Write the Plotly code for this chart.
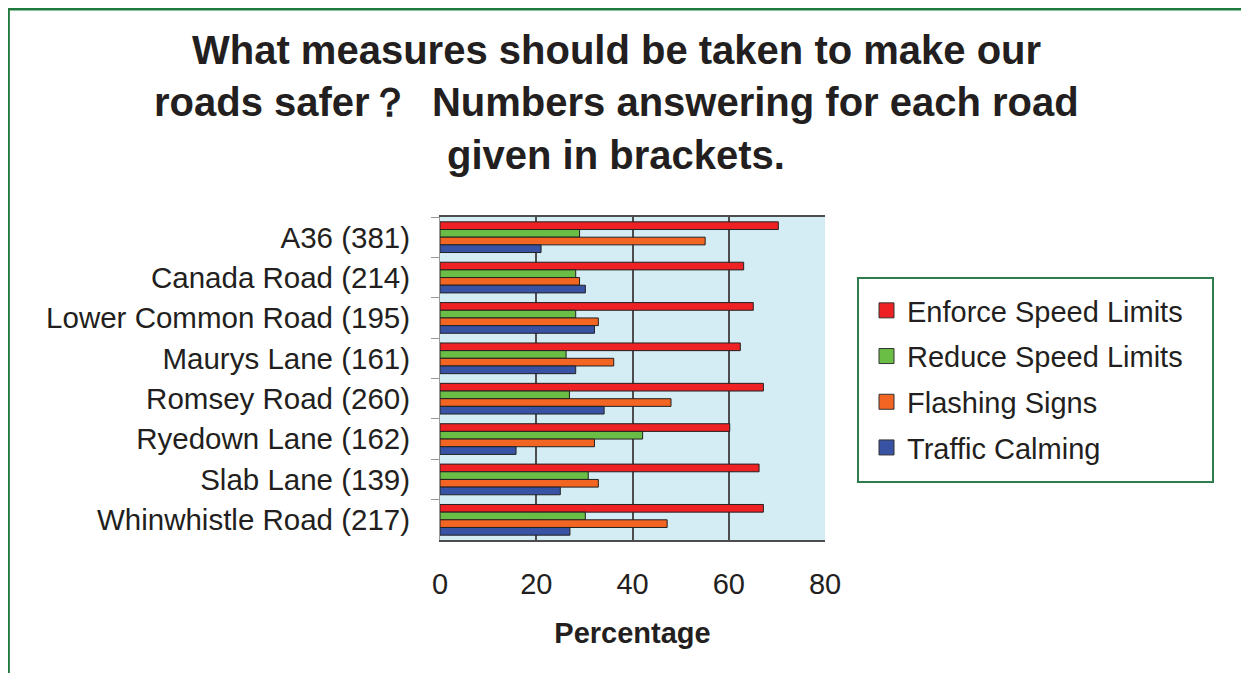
import plotly.graph_objects as go

roads = ["A36 (381)", "Canada Road (214)", "Lower Common Road (195)", "Maurys Lane (161)",
         "Romsey Road (260)", "Ryedown Lane (162)", "Slab Lane (139)", "Whinwhistle Road (217)"]
enforce = [70.3, 63.1, 65.1, 62.4, 67.2, 60.2, 66.3, 67.2]
reduce_ = [29.0, 28.2, 28.2, 26.2, 26.9, 42.1, 30.8, 30.2]
flashing = [55.1, 29.0, 32.9, 36.1, 48.0, 32.1, 32.9, 47.2]
calming = [21.0, 30.2, 32.1, 28.2, 34.1, 15.8, 25.0, 27.0]

series = [
    ("Enforce Speed Limits", enforce, "#ee2224"),
    ("Reduce Speed Limits", reduce_, "#6abd45"),
    ("Flashing Signs", flashing, "#f26522"),
    ("Traffic Calming", calming, "#3953a4"),
]

FONT = "Liberation Sans, Arial, sans-serif"

W, H = 1241, 665
L, T, R, B = 432, 209, 424, 133
PW, PH = W - L - R, H - T - B


def px(xf):
    return (xf - L) / PW


def py(yf):
    return (H - B - yf) / PH


fig = go.Figure()
for i, (name, vals, col) in enumerate(series):
    fig.add_trace(go.Bar(
        y=roads, x=vals, name=name, orientation="h",
        marker=dict(color=col, line=dict(color="#222222", width=1)),
        showlegend=False,
    ))
for i, (name, vals, col) in enumerate(series):
    fig.add_trace(go.Scatter(
        x=[None], y=[None], mode="markers", name=name, legendgroup=f"g{i}",
        marker=dict(symbol="square", size=15, color=col, line=dict(color="#333333", width=1)),
        showlegend=True, hoverinfo="skip",
    ))

fig.update_layout(
    width=W, height=H,
    margin=dict(l=L, r=R, t=T, b=B),
    paper_bgcolor="white", plot_bgcolor="#d4ecf3",
    barmode="group", bargap=0.24, bargroupgap=0,
    font=dict(family=FONT, color="#231f20", size=29),
    showlegend=True,
    legend=dict(
        x=px(858), y=py(277), xanchor="left", yanchor="top",
        borderwidth=0, bgcolor="rgba(0,0,0,0)",
        font=dict(size=29, family=FONT, color="#231f20"),
        tracegroupgap=5, itemwidth=31,
    ),
    xaxis=dict(
        range=[0, 80], dtick=20, showgrid=True, gridcolor="#4d4d4d", gridwidth=1.5,
        zeroline=False, showline=True, linecolor="#4d4d4d", linewidth=1.5,
        ticks="", tickfont=dict(size=29), ticklabelstandoff=17,
        title=dict(text="<b>Percentage</b>", font=dict(size=29), standoff=24),
        mirror=True,
    ),
    yaxis=dict(
        autorange="reversed", categoryorder="array", categoryarray=roads,
        ticks="outside", tickson="boundaries", ticklen=8, tickcolor="#999999",
        showline=True, linecolor="#999999", linewidth=1,
        tickfont=dict(size=29.5), ticklabelstandoff=23,
    ),
)

title_lines = [
    ("What measures should be taken to make our", 42),
    ("roads safer？  Numbers answering for each road", 94),
    ("given in brackets.", 147),
]
for txt, yf in title_lines:
    fig.add_annotation(
        text=f"<b>{txt}</b>", xref="paper", yref="paper",
        x=px(608), y=py(yf), xanchor="center", yanchor="middle",
        showarrow=False, font=dict(size=40, family=FONT, color="#231f20"),
    )

# legend box
fig.add_shape(type="rect", xref="paper", yref="paper",
              x0=px(850), x1=px(1205), y0=py(474), y1=py(270),
              line=dict(color="#2e7d4f", width=2), fillcolor="white", layer="below")

# outer frame
fig.add_shape(type="rect", xref="paper", yref="paper",
              x0=px(0.6), x1=px(W + 20),
              y0=py(H + 20), y1=py(1.2),
              line=dict(color="#1f7a3f", width=2.5), fillcolor="rgba(0,0,0,0)", layer="below")

fig.write_html("out.html")
